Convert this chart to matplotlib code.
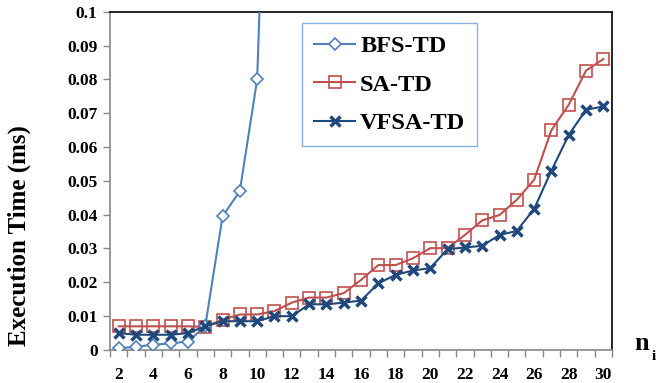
import numpy as np
import matplotlib
matplotlib.use("Agg")
import matplotlib.pyplot as plt

# number of items n_i on the x axis
n_items = list(range(2, 31))

# execution time (ms)
bfs_td = [0.0005, 0.001, 0.0015, 0.002, 0.0025, 0.007, 0.0395, 0.047, 0.080, 0.23]
sa_td = [0.007, 0.007, 0.007, 0.007, 0.007, 0.0068, 0.009, 0.0105, 0.0105, 0.0115,
         0.014, 0.0155, 0.0155, 0.0168, 0.0207, 0.0251, 0.0251, 0.0271, 0.0301, 0.0301,
         0.034, 0.0383, 0.0399, 0.0444, 0.0503, 0.065, 0.0725, 0.0826, 0.086]
vfsa_td = [0.005, 0.0045, 0.0045, 0.0045, 0.005, 0.007, 0.0085, 0.0085, 0.0085, 0.010,
           0.010, 0.0135, 0.0135, 0.014, 0.0146, 0.0197, 0.0222, 0.0235, 0.0242, 0.0298,
           0.0303, 0.0308, 0.034, 0.0352, 0.0417, 0.053, 0.0636, 0.071, 0.072]

y_ticks = [0, 0.01, 0.02, 0.03, 0.04, 0.05, 0.06, 0.07, 0.08, 0.09, 0.1]
y_labels = ["0", "0.01", "0.02", "0.03", "0.04", "0.05", "0.06", "0.07", "0.08", "0.09", "0.1"]

plt.rcParams['font.family'] = ['Liberation Serif', 'DejaVu Serif']
plt.rcParams['font.weight'] = 'bold'

fig = plt.figure(figsize=(6.6, 3.83), dpi=100)
ax = fig.add_axes([0.1667, 0.0862, 0.7606, 0.8833])

ax.plot(n_items[:len(bfs_td)], bfs_td, color='#4F81BD', lw=1.5, marker='D', ms=6.5,
        mfc='white', mec='#4F81BD', mew=1.2, label='BFS-TD', zorder=3)
ax.plot(n_items, sa_td, color='#C0504D', lw=1.5, marker='s', ms=8,
        mfc='none', mec='#C0504D', mew=1.2, label='SA-TD', zorder=2)
ax.plot(n_items, vfsa_td, color='#1F497D', lw=1.5, marker='x', ms=7,
        mec='#1F497D', mew=2.5, label='VFSA-TD', zorder=4)

ax.set_xlim(1.5, 30.5)
ax.set_ylim(0, 0.1)
ax.set_xticks(range(2, 31, 2))
ax.set_xticklabels([str(v) for v in range(2, 31, 2)], fontsize=12.5, fontweight='bold')
ax.set_xticks(np.arange(1.5, 31, 1), minor=True)
ax.tick_params(axis='x', which='major', length=0, pad=12)
ax.tick_params(axis='x', which='minor', length=5, color='#888888', width=1)
ax.set_yticks(y_ticks)
ax.set_yticklabels(y_labels, fontsize=12.5, fontweight='bold')
ax.tick_params(axis='y', length=5, color='#888888', width=1, pad=4)

for side in ['left', 'bottom']:
    ax.spines[side].set_color('#888888')
    ax.spines[side].set_linewidth(1.2)
for side in ['top', 'right']:
    ax.spines[side].set_color('black')
    ax.spines[side].set_linewidth(1.2)

ax.set_ylabel('Execution Time (ms)', fontsize=18, fontweight='bold')
ax.yaxis.set_label_coords(-0.158, 0.337)

fig.text(0.972, 0.085, 'n', fontsize=19, fontweight='bold', ha='center', va='baseline')
fig.text(0.99, 0.06, 'i', fontsize=11, fontweight='bold', ha='center', va='baseline')

leg = ax.legend(loc='upper left', bbox_to_anchor=(0.382, 0.967), fontsize=17.5,
                frameon=True, fancybox=False, edgecolor='#6A9BD8', borderpad=0.5,
                labelspacing=0.68, handlelength=1.7, handletextpad=0.2,
                borderaxespad=0)
leg.get_frame().set_linewidth(1.0)

fig.savefig('out.png', dpi=100)
